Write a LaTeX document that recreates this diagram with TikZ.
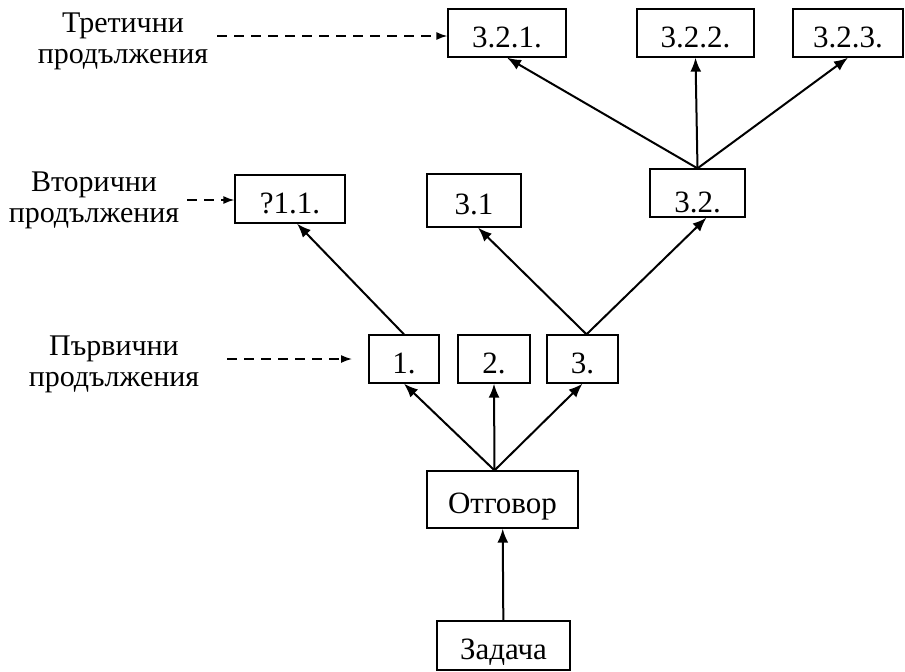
\documentclass[tikz,border=0pt]{standalone}
\usepackage{fontspec}
\setmainfont{Liberation Serif}
\usetikzlibrary{arrows.meta}

\begin{document}
\begin{tikzpicture}[x=1pt,y=-1pt,
    box/.style={draw,line width=1.3pt,inner sep=0pt,text height=28.5pt,text depth=0pt,
      font=\fontsize{31}{31}\selectfont},
    lbl/.style={align=center,inner sep=0pt,font=\fontsize{30}{31}\selectfont},
    arr/.style={line width=2pt,-{Latex[length=14pt,width=11pt]}},
    darr/.style={line width=1.5pt,dash pattern=on 10pt off 7pt,-{Latex[length=11pt,width=8pt]}}]
  \useasboundingbox (0,0) rectangle (905,672);
  % kutii
  \node[box,minimum width=133,minimum height=49] (zad) at (503.5,645.5) {Задача};
  \node[box,minimum width=151,minimum height=57] (otg) at (502.5,499.5) {Отговор};
  \node[box,minimum width=70,minimum height=48] (p1) at (404,359) {1.};
  \node[box,minimum width=72,minimum height=48] (p2) at (494,359) {2.};
  \node[box,minimum width=71,minimum height=48] (p3) at (582.5,359) {3.};
  \node[box,minimum width=110,minimum height=48] (v11) at (290,199) {?1.1.};
  \node[box,minimum width=94,minimum height=53] (v31) at (474,200.5) {3.1};
  \node[box,minimum width=95,minimum height=48,text height=38pt] (v32) at (697.5,193) {3.2.};
  \node[box,minimum width=118,minimum height=48] (t321) at (507,33) {3.2.1.};
  \node[box,minimum width=117,minimum height=48] (t322) at (695.5,33) {3.2.2.};
  \node[box,minimum width=110,minimum height=48] (t323) at (848,33) {3.2.3.};
  % nadpisi
  \node[lbl] (l3) at (123,41) {Третични\\продължения};
  \node[lbl] (l2) at (94,200) {Вторични\\продължения};
  \node[lbl] (l1) at (114,364) {Първични\\продължения};
  % strelki
  \coordinate (ot) at ([xshift=-8]otg.north);
  \coordinate (p3t) at ([xshift=4]p3.north);
  \draw[arr] (zad) -- (otg);
  \foreach \n in {p1,p2,p3}
    \draw[arr] (ot) -- (\n.south);
  \draw[arr] (p1.north) -- ([xshift=7]v11.south);
  \draw[arr] (p3t) -- ([xshift=4]v31.south);
  \draw[arr] (p3t) -- ([xshift=9]v32.south);
  \foreach \n in {t321,t322,t323}
    \draw[arr] (v32.north) -- (\n.south);
  % prekysnati strelki
  \coordinate (d3) at (217,36);
  \coordinate (d2) at (187,200);
  \coordinate (d1) at (227,359);
  \coordinate (e1) at (352,359);
  \draw[darr] (d3) -- (d3 -| t321.west);
  \draw[darr] (d2) -- (d2 -| v11.west);
  \draw[darr] (d1) -- (e1);
\end{tikzpicture}
\end{document}
